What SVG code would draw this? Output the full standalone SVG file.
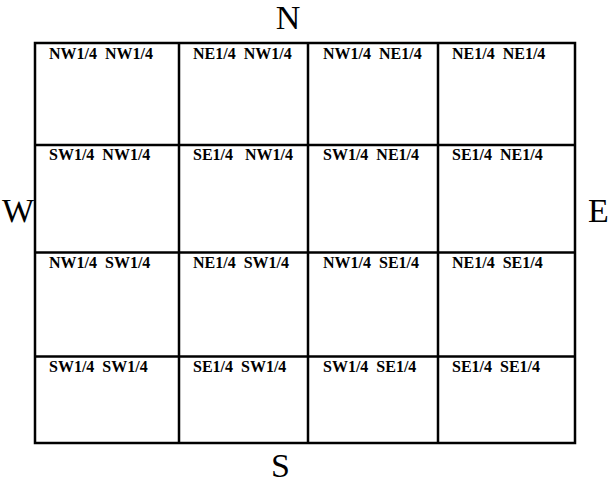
<svg xmlns="http://www.w3.org/2000/svg" width="610" height="482" viewBox="0 0 610 482">
<style>
.g{fill:none;stroke:#000;stroke-width:2.5}
.c{font-family:"Liberation Serif","Times New Roman",serif;font-size:34px;fill:#000}
.l{font-family:"Liberation Serif","Times New Roman",serif;font-size:16px;font-weight:bold;fill:#000;white-space:pre}
</style>
<rect width="610" height="482" fill="#fff"/>
<g id="grid">
<rect class="g" x="35" y="43" width="540" height="400"/>
<line class="g" x1="179" y1="43" x2="179" y2="443"/>
<line class="g" x1="308" y1="43" x2="308" y2="443"/>
<line class="g" x1="438" y1="43" x2="438" y2="443"/>
<line class="g" x1="35" y1="145" x2="575" y2="145"/>
<line class="g" x1="35" y1="252.5" x2="575" y2="252.5"/>
<line class="g" x1="35" y1="356.5" x2="575" y2="356.5"/>
</g>
<g id="compass">
<text class="c" x="288" y="29" text-anchor="middle">N</text>
<text class="c" x="280.5" y="477" text-anchor="middle">S</text>
<text class="c" x="2" y="222">W</text>
<text class="c" x="588" y="222">E</text>
</g>
<g id="labels">
<text class="l" x="49" y="59">NW1/4  NW1/4</text>
<text class="l" x="193" y="59">NE1/4  NW1/4</text>
<text class="l" x="323" y="59">NW1/4  NE1/4</text>
<text class="l" x="452" y="59">NE1/4  NE1/4</text>
<text class="l" x="49" y="160">SW1/4  NW1/4</text>
<text class="l" x="193" y="160">SE1/4   NW1/4</text>
<text class="l" x="323" y="160">SW1/4  NE1/4</text>
<text class="l" x="452" y="160">SE1/4  NE1/4</text>
<text class="l" x="49" y="268">NW1/4  SW1/4</text>
<text class="l" x="193" y="268">NE1/4  SW1/4</text>
<text class="l" x="323" y="268">NW1/4  SE1/4</text>
<text class="l" x="452" y="268">NE1/4  SE1/4</text>
<text class="l" x="49" y="372">SW1/4  SW1/4</text>
<text class="l" x="193" y="372">SE1/4  SW1/4</text>
<text class="l" x="323" y="372">SW1/4  SE1/4</text>
<text class="l" x="452" y="372">SE1/4  SE1/4</text>
</g>
</svg>
